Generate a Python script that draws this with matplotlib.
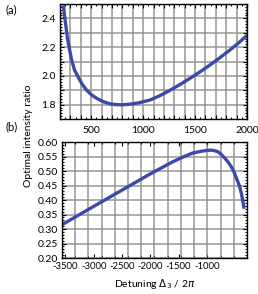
import matplotlib
matplotlib.use("Agg")
import matplotlib.pyplot as plt
import numpy as np
from matplotlib.ticker import MultipleLocator

plt.rcParams["font.family"] = ["Lato", "DejaVu Sans"]
plt.rcParams["axes.unicode_minus"] = False

# (a) detuning vs optimal intensity ratio
det_a = [232, 245, 258, 272, 290, 312, 340, 376, 415, 457, 505, 553, 615, 681, 740,
         800, 874, 960, 1066, 1160, 1259, 1355, 1451, 1548, 1644, 1740, 1836, 1920, 2000]
ratio_a = [2.49, 2.41, 2.34, 2.26, 2.19, 2.11, 2.04, 1.99, 1.94, 1.90, 1.867, 1.844, 1.821, 1.806, 1.800,
           1.799, 1.803, 1.813, 1.832, 1.862, 1.90, 1.94, 1.983, 2.028, 2.076, 2.127, 2.18, 2.23, 2.283]

# (b)
det_b = [-3550, -3000, -2500, -2000, -1800, -1600, -1400, -1250, -1100, -1000, -930, -860, -800,
         -740, -690, -640, -600, -562, -520, -480, -445, -415, -390, -365, -340]
ratio_b = [0.316, 0.378, 0.434, 0.490, 0.511, 0.532, 0.550, 0.562, 0.568, 0.571, 0.572, 0.570, 0.566,
           0.556, 0.546, 0.535, 0.524, 0.513, 0.497, 0.477, 0.460, 0.443, 0.423, 0.398, 0.370]

xticks_b = [-3500, -3000, -2500, -2000, -1500, -1000]
yticks_b = [0.20, 0.25, 0.30, 0.35, 0.40, 0.45, 0.50, 0.55, 0.60]

BLUE = "#3b4aa6"
GRID = "#969696"

fig = plt.figure(figsize=(2.58, 2.94), dpi=100)
ax1 = fig.add_axes([0.2326, 0.5952, 0.7248, 0.3912])
ax2 = fig.add_axes([0.2403, 0.1224, 0.7170, 0.3946])


def style(ax):
    ax.set_axisbelow(True)
    ax.tick_params(which="both", direction="in", top=True, right=True,
                   labelsize=7.5, pad=3, width=0.8)
    ax.tick_params(which="major", length=3)
    ax.tick_params(which="minor", length=1.5)
    for s in ax.spines.values():
        s.set_linewidth(1.0)
        s.set_zorder(5)


# top panel
ax1.plot(det_a, ratio_a, color=BLUE, linewidth=2.4, solid_capstyle="butt", zorder=3)
ax1.set_xlim(200, 2000)
ax1.set_ylim(1.7, 2.5)
xt1 = list(range(300, 2001, 100))
ax1.set_xticks(xt1)
ax1.set_xticklabels([str(x) if x % 500 == 0 else "" for x in xt1])
ax1.set_yticks([1.8, 1.9, 2.0, 2.1, 2.2, 2.3, 2.4])
ax1.set_yticklabels(["1.8", "", "2.0", "", "2.2", "", "2.4"])
ax1.xaxis.set_minor_locator(MultipleLocator(50))
ax1.yaxis.set_minor_locator(MultipleLocator(0.02))
ax1.grid(True, which="major", color=GRID, linewidth=1.1)
style(ax1)
ax1.tick_params(axis="x", pad=5)

# bottom panel
ax2.plot(det_b, ratio_b, color=BLUE, linewidth=2.4, solid_capstyle="butt", zorder=3)
ax2.set_xlim(-3560, -290)
ax2.set_ylim(0.20, 0.60)
ax2.set_xticks(xticks_b)
ax2.set_xticklabels([str(x) for x in xticks_b])
ax2.set_yticks(yticks_b)
ax2.set_yticklabels([f"{v:.2f}" for v in yticks_b])
# vertical grid divides the frame evenly, not tied to the labels
ax2.set_xticks(np.linspace(-3560, -290, 15)[1:-1], minor=True)
ax2.yaxis.set_minor_locator(MultipleLocator(0.01))
ax2.grid(True, axis="x", which="minor", color=GRID, linewidth=1.1)
ax2.grid(True, axis="y", which="major", color=GRID, linewidth=1.1)
style(ax2)
ax2.tick_params(axis="x", labelsize=6.8)
ax2.set_xlabel(r"Detuning $\Delta_3$ / 2$\pi$", fontsize=7.5, labelpad=4)

fig.text(0.112, 0.537, "Optimal intensity ratio", rotation=90, ha="center", va="center", fontsize=7.5)
fig.text(0.02, 0.966, "(a)", fontsize=8, va="center")
fig.text(0.02, 0.568, "(b)", fontsize=8, va="center")

fig.savefig("out.png", dpi=100)
